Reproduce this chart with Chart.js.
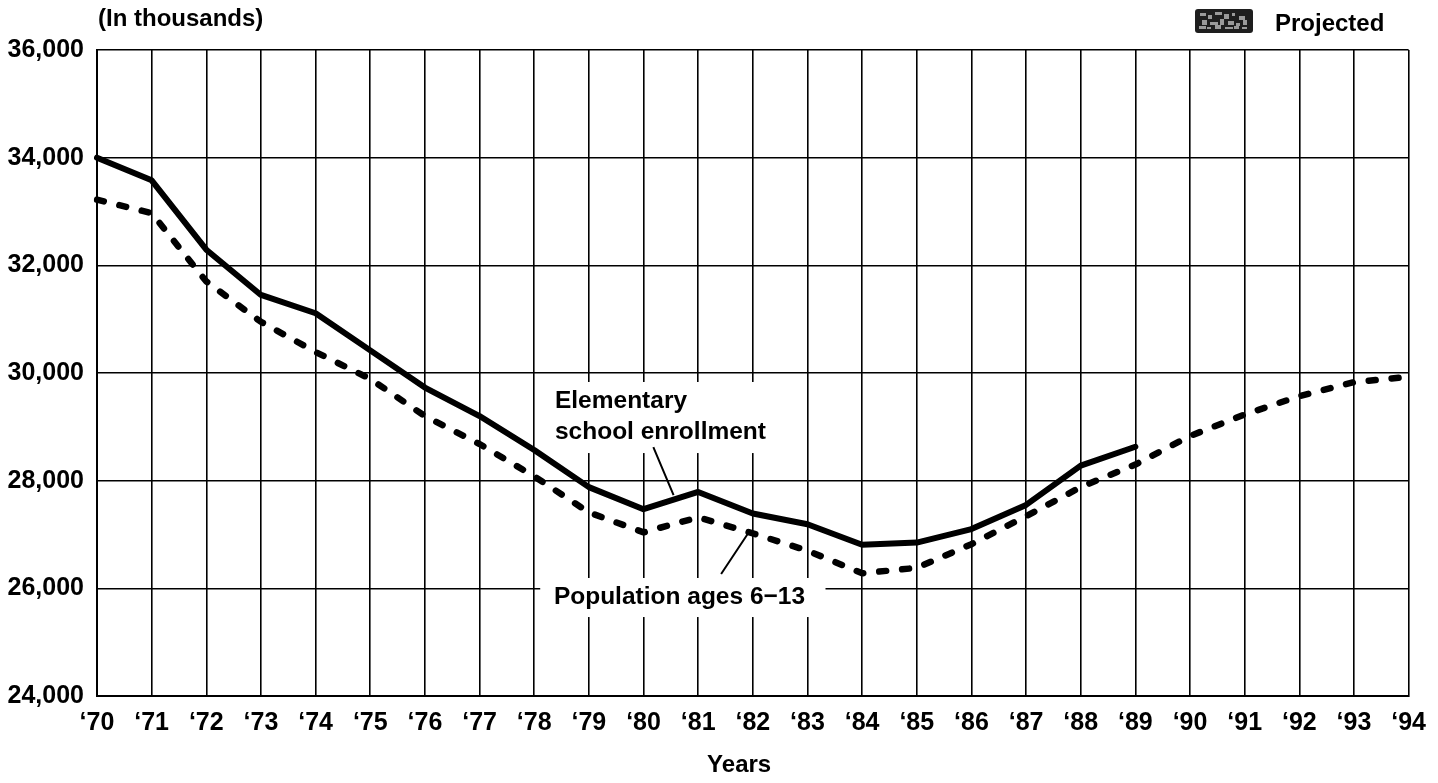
<!DOCTYPE html>
<html><head><meta charset="utf-8">
<script src="https://cdn.jsdelivr.net/npm/chart.js@4.4.1/dist/chart.umd.min.js"></script>
<style>html,body{margin:0;padding:0;background:#fff}#wrap{width:1438px;height:783px;position:relative}</style>
</head><body><div id="wrap"><canvas id="c"></canvas></div>
<script>
const years = ['‘70','‘71','‘72','‘73','‘74','‘75','‘76','‘77','‘78','‘79','‘80','‘81','‘82','‘83','‘84','‘85','‘86','‘87','‘88','‘89','‘90','‘91','‘92','‘93','‘94'];
const enrollment = [34000,33580,32290,31450,31110,30420,29730,29200,28570,27880,27470,27790,27390,27190,26810,26850,27100,27550,28280,28630];
const population = [33220,32970,31700,30950,30390,29890,29200,28680,28080,27410,27040,27320,27020,26700,26280,26380,26820,27340,27880,28300,28830,29230,29570,29830,29930];
const yTicks = [24000,26000,28000,30000,32000,34000,36000];
const yTitle = '(In thousands)';
const xTitle = 'Years';
const legendText = 'Projected';
const elemLabel = ['Elementary','school enrollment'];
const popLabel = 'Population ages 6\u221213';

const FONT = '"Liberation Sans Narrow","Arial Narrow","Liberation Sans",Arial,Helvetica,sans-serif';

const annot = {
  id: 'annot',
  beforeDatasetsDraw(chart) {
    const {ctx, scales: {x, y}} = chart;
    ctx.save();
    ctx.fillStyle = '#fff';
    const box = (i0, i1, v0, v1) => {
      const X0 = x.getPixelForValue(i0), X1 = x.getPixelForValue(i1);
      const Y0 = y.getPixelForValue(v0), Y1 = y.getPixelForValue(v1);
      ctx.fillRect(X0, Y0, X1 - X0, Y1 - Y0);
    };
    box(8.15, 12.78, 29833, 28513);
    box(8.11, 13.33, 26192, 25467);
    ctx.restore();
  },
  afterDraw(chart) {
    const {ctx, chartArea, scales: {x, y}} = chart;
    ctx.save();
    ctx.fillStyle = '#000';
    ctx.strokeStyle = '#000';
    ctx.font = 'bold 24px ' + FONT;
    ctx.textBaseline = 'middle';
    ctx.textAlign = 'left';
    // y title
    ctx.fillText(yTitle, chartArea.left + 1, 19);
    // x title
    ctx.textAlign = 'center';
    ctx.fillText(xTitle, x.getPixelForValue(11.75), 765);
    // legend
    ctx.textAlign = 'left';
    ctx.fillText(legendText, 1275, 24);
    const bx = 1195, by = 9, bw = 58, bh = 24;
    ctx.fillStyle = '#1e1e1e';
    ctx.beginPath();
    ctx.roundRect(bx, by, bw, bh, 3);
    ctx.fill();
    ctx.fillStyle = '#9a9a9a';
    const spots = [[5,4,6,3],[13,6,4,4],[20,3,7,3],[29,5,5,5],[37,4,3,3],[44,7,6,4],
                   [7,11,5,5],[15,13,8,3],[25,10,4,6],[33,12,6,4],[41,14,4,3],[48,11,4,5],
                   [4,17,7,3],[12,18,4,2],[20,16,6,4],[30,18,8,2],[39,17,5,3],[47,18,5,2]];
    spots.forEach(s => ctx.fillRect(bx + s[0], by + s[1], s[2], s[3]));
    // annotations
    ctx.fillStyle = '#000';
    ctx.font = 'bold 24.5px ' + FONT;
    ctx.textAlign = 'left';
    ctx.fillText(elemLabel[0], x.getPixelForValue(8.38), y.getPixelForValue(29480));
    ctx.fillText(elemLabel[1], x.getPixelForValue(8.38), y.getPixelForValue(28904));
    ctx.fillText(popLabel, x.getPixelForValue(8.36), y.getPixelForValue(25840));
    ctx.lineWidth = 2;
    ctx.beginPath();
    ctx.moveTo(x.getPixelForValue(10.18), y.getPixelForValue(28625));
    ctx.lineTo(x.getPixelForValue(10.55), y.getPixelForValue(27733));
    ctx.moveTo(x.getPixelForValue(11.93), y.getPixelForValue(27046));
    ctx.lineTo(x.getPixelForValue(11.42), y.getPixelForValue(26266));
    ctx.stroke();
    ctx.restore();
  }
};

new Chart(document.getElementById('c'), {
  type: 'line',
  data: {
    labels: years,
    datasets: [
      { label: 'Elementary school enrollment', data: enrollment, borderColor: '#000', borderWidth: 6, pointRadius: 0, tension: 0, borderJoinStyle: 'round', borderCapStyle: 'round', fill: false },
      { label: 'Population ages 6-13', data: population, borderColor: '#000', borderWidth: 6.5, borderDash: [7, 16], borderCapStyle: 'round', pointRadius: 0, tension: 0, fill: false }
    ]
  },
  options: {
    responsive: true,
    maintainAspectRatio: false,
    animation: false,
    layout: { padding: { left: 0, right: 24, top: 50, bottom: 0 } },
    plugins: { legend: { display: false }, tooltip: { enabled: false } },
    scales: {
      x: {
        type: 'category',
        offset: false,
        grid: { color: '#000', lineWidth: 1.6, drawTicks: false },
        border: { color: '#000', width: 2 },
        ticks: { color: '#000', font: { family: FONT, size: 25, weight: 'bold' }, padding: 12, maxRotation: 0, autoSkip: false },
        afterFit(s) { s.height = 87; }
      },
      y: {
        min: 24000, max: 36000,
        grid: { color: '#000', lineWidth: 1.6, drawTicks: false },
        border: { color: '#000', width: 2 },
        afterBuildTicks(s) { s.ticks = yTicks.map(v => ({ value: v })); },
        ticks: { color: '#000', font: { family: FONT, size: 25, weight: 'bold' }, padding: 13,
          callback: v => v.toLocaleString('en-US') },
        afterFit(s) { s.width = 97; }
      }
    }
  },
  plugins: [annot]
});
</script>
</body></html>
